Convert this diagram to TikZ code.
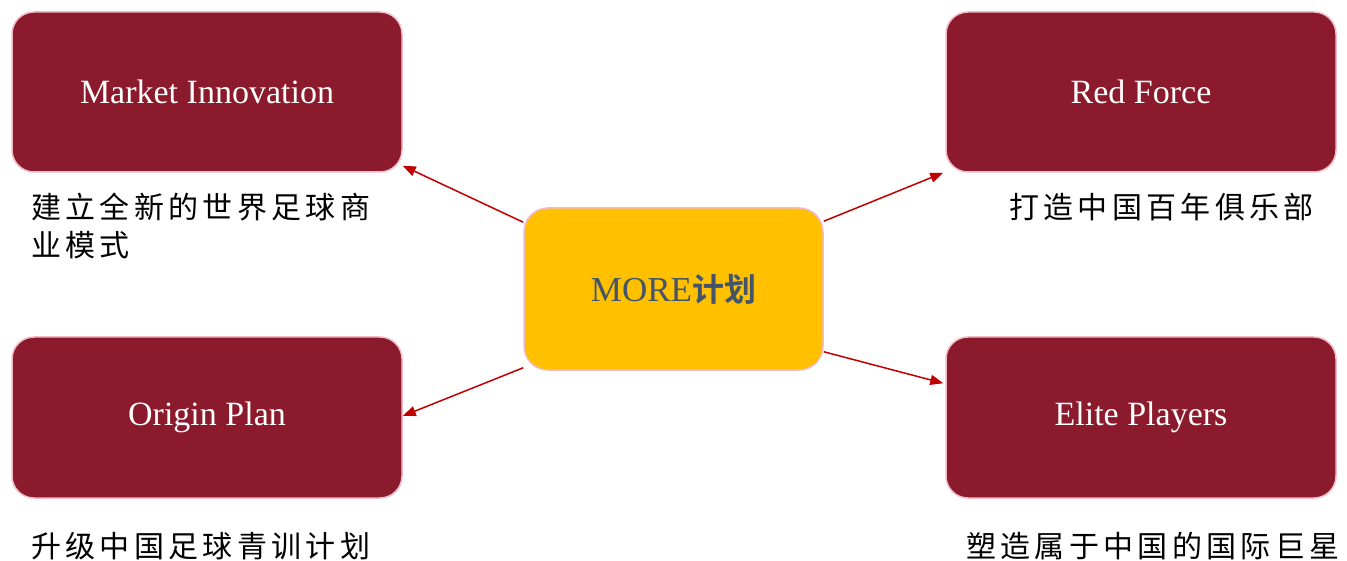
\documentclass[tikz,border=0pt]{standalone}
\usepackage{fontspec}
\setmainfont{Liberation Serif}
\newfontfamily\cjk[LetterSpace=14.5]{Noto Sans CJK SC}
\newfontfamily\cjkbold{Noto Sans CJK SC Bold}
\usetikzlibrary{arrows.meta}
\definecolor{wine}{HTML}{8B1A2C}
\definecolor{boxline}{HTML}{F2BAC6}
\definecolor{gold}{HTML}{FFC000}
\definecolor{slate}{HTML}{44546A}
\definecolor{arrowred}{HTML}{C00000}
\begin{document}
\begin{tikzpicture}[x=1pt,y=-1pt,
  box/.style={draw=boxline, line width=1.5pt, fill=wine, rounded corners=22pt,
    minimum width=390pt, minimum height=160pt, inner sep=0pt,
    text=white, font=\fontsize{34}{40}\selectfont},
  hub/.style={draw=boxline, line width=1.5pt, fill=gold, rounded corners=24pt,
    minimum width=299pt, minimum height=162pt, inner sep=0pt,
    text=slate, font=\fontsize{35}{40}\selectfont},
  caption/.style={inner sep=0pt, align=left, text=black,
    font=\fontsize{30}{38}\selectfont\cjk},
  arr/.style={draw=arrowred, line width=1.5pt,
    -{Triangle[length=13pt,width=10pt]}}
]
\useasboundingbox (0,0) rectangle (1347,561);

% central plan
\node[hub] (c) at (673.5,289) {MORE{\cjkbold\fontsize{32}{40}\selectfont 计划}};

% four pillars
\node[box] (mi) at (207,92) {Market Innovation};
\node[box] (rf) at (1141,92) {Red Force};
\node[box, minimum height=161pt] (op) at (207,417.5) {Origin Plan};
\node[box, minimum height=161pt] (ep) at (1141,417.5) {Elite Players};

% descriptions (base anchor sits on the last line)
\node[caption, anchor=base west] (tmi) at (31,257) {建立全新的世界足球商\\业模式};
\node[caption, anchor=base west] (trf) at (1009,219) {打造中国百年俱乐部};
\node[caption, anchor=base west] (top) at (31,557) {升级中国足球青训计划};
\node[caption, anchor=base west] (tep) at (966,557) {塑造属于中国的国际巨星};

% connectors
\draw[arr] ([yshift=-15pt]c.north west) -- ([yshift=7pt]mi.south east);
\draw[arr] ([yshift=-14pt]c.north east) -- ([xshift=-2pt]rf.south west);
\draw[arr] ([yshift=3pt]c.south west) -- ([yshift=1.5pt]op.east);
\draw[arr] ([yshift=19pt]c.south east) -- ([xshift=-2pt,yshift=-47pt]ep.north west);
\end{tikzpicture}
\end{document}
